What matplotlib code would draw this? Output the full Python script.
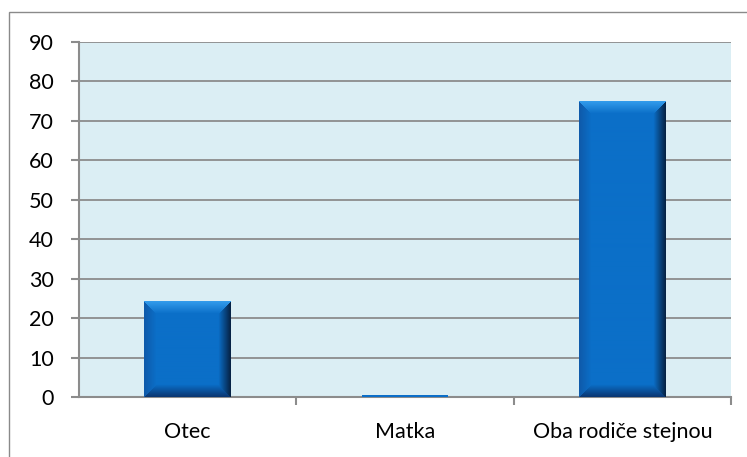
import matplotlib.pyplot as plt
from matplotlib.patches import Rectangle
import numpy as np

categories = ['Otec', 'Matka', 'Oba rodiče stejnou']
values = [24.2, 0.6, 74.9]
yticks = [0, 10, 20, 30, 40, 50, 60, 70, 80, 90]

plt.rcParams['font.family'] = ['Lato', 'DejaVu Sans']

fig = plt.figure(figsize=(7.47, 4.57), dpi=100)
ax = fig.add_axes([79/747, 60/457, 652/747, 355/457])

# outer chart border (right/bottom run off the picture)
fig.patches.append(Rectangle((9/747, -0.1), 1.2, 0.1 + 445/457, transform=fig.transFigure,
                             fill=False, edgecolor='#8a8a8a', linewidth=1.0))

ax.set_facecolor('#dbeef4')
x = np.arange(len(categories))
bars = ax.bar(x, values, width=0.4, color='#0b6ec8', zorder=3)
ax.set_xlim(-0.5, 2.5)
ax.set_ylim(0, 90)
ax.set_yticks(yticks)
ax.grid(axis='y', color='#8c8c8c', linewidth=1.3, zorder=1)
ax.set_axisbelow(True)

for s in ['top', 'right']:
    ax.spines[s].set_visible(False)
ax.spines['left'].set_color('#8c8c8c')
ax.spines['bottom'].set_color('#8c8c8c')
ax.spines['left'].set_linewidth(1.5)
ax.spines['bottom'].set_linewidth(1.5)

ax.set_xticks(x)
ax.set_xticklabels(categories)
ax.set_xticks([0.5, 1.5, 2.5], minor=True)
ax.tick_params(axis='x', which='major', length=0, pad=18, labelsize=15.5)
ax.tick_params(axis='x', which='minor', length=6, width=1.5, color='#8c8c8c')
ax.tick_params(axis='y', length=6, width=1.5, color='#8c8c8c', pad=12, labelsize=15.5)

# bevel shading on the bars
fig.canvas.draw()
base = np.array([11, 111, 200]) / 255
top_c = np.array([50, 155, 235]) / 255
left_c = np.array([15, 90, 170]) / 255
right_c = np.array([6, 35, 70]) / 255
bot_c = np.array([10, 55, 115]) / 255
for b in bars:
    bx, by, bw, bh = b.get_x(), b.get_y(), b.get_width(), b.get_height()
    p0 = ax.transData.transform((bx, by))
    p1 = ax.transData.transform((bx + bw, by + bh))
    W, H = int(round(p1[0] - p0[0])), int(round(p1[1] - p0[1]))
    if H < 6:
        continue
    bev = 12
    yy, xx = np.mgrid[0:H, 0:W]
    d = np.stack([yy, xx, W - 1 - xx, H - 1 - yy])  # top, left, right, bottom
    k = d.argmin(axis=0)
    dm = d.min(axis=0)
    t = np.clip(dm / bev, 0, 1)[..., None]
    cols = np.array([top_c, left_c, right_c, bot_c])
    edge = cols[k]
    img = edge * (1 - t) + base * t
    ax.imshow(img, extent=(bx, bx + bw, by, by + bh), aspect='auto', zorder=4,
              interpolation='bilinear')
ax.set_xlim(-0.5, 2.5)
ax.set_ylim(0, 90)

fig.savefig('out.png', dpi=100)
